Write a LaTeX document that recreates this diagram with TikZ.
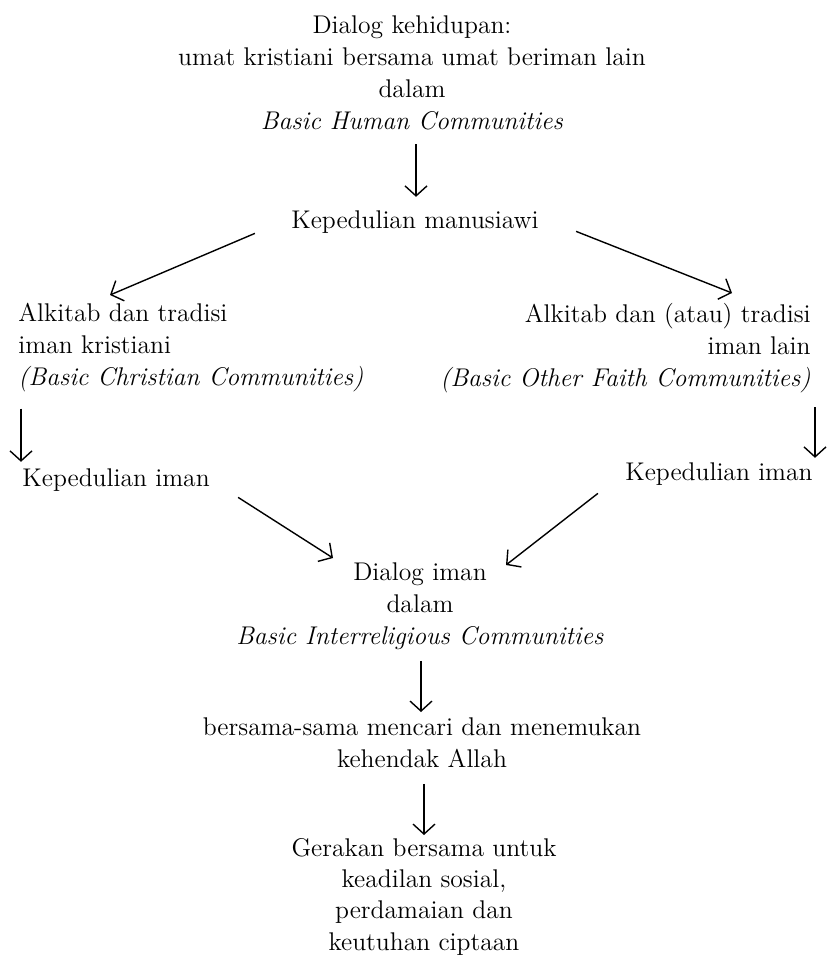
\documentclass[tikz,border=0pt]{standalone}
\usepackage{tikz}
\usetikzlibrary{arrows.meta, positioning, calc}

\begin{document}
\begin{tikzpicture}[x=0.5pt, y=-0.5pt,
  txt/.style={inner sep=0pt, font=\fontsize{12.8}{16}\selectfont},
  arr/.style={line width=0.7pt, -{Straight Barb[length=5pt, width=11pt]}}]
  \useasboundingbox (0,0) rectangle (826,958);
  % Top
  \node[txt, anchor=north, align=center] (top) at (412,15) {Dialog kehidupan:\\ umat kristiani bersama umat beriman lain\\ dalam\\ \textit{Basic Human Communities}};
  \node[txt, anchor=base] (manus) at (415,228) {Kepedulian manusiawi};
  % Two sides
  \node[txt, anchor=north west, align=left] (alkL) at (18,303) {Alkitab dan tradisi\\ iman kristiani\\ \textit{(Basic Christian Communities)}};
  \node[txt, anchor=north east, align=right] (alkR) at (811,303) {Alkitab dan (atau) tradisi\\ iman lain\\ \textit{(Basic Other Faith Communities)}};
  \node[txt, anchor=base west] (pedL) at (22,486) {Kepedulian iman};
  \node[txt, anchor=base east] (pedR) at (813,480) {Kepedulian iman};
  % Bottom
  \node[txt, anchor=north, align=center] (dialog) at (420,562) {Dialog iman\\ dalam\\ \textit{Basic Interreligious Communities}};
  \node[txt, anchor=north, align=center] (cari) at (422,717) {bersama-sama mencari dan menemukan\\ kehendak Allah};
  \node[txt, anchor=north, align=center, font=\fontsize{12.8}{15.6}\selectfont] (gerak) at (424,838) {Gerakan bersama untuk\\ keadilan sosial,\\ perdamaian dan\\ keutuhan ciptaan};
  % Arrows
  \draw[arr] ($(top.south)+(4,14)$) -- ($(manus.north)+(1,-13)$);
  \draw[arr] ($(manus.south west)+(-36,0)$) -- ($(alkL.north west)+(92,-8)$);
  \draw[arr] ($(manus.south east)+(37,-2)$) -- ($(alkR.north east)+(-79,-10)$);
  \draw[arr] ($(alkL.south west)+(3,16)$) -- ($(pedL.north west)+(-1,-6)$);
  \draw[arr] ($(alkR.south east)+(4,14)$) -- ($(pedR.north east)+(2,-4)$);
  \draw[arr] ($(pedL.south east)+(28,6)$) -- ($(dialog.north)+(-87,-4)$);
  \draw[arr] ($(pedR.south west)+(-27,8)$) -- ($(dialog.north)+(86,3)$);
  \draw[arr] ($(dialog.south)+(1,11)$) -- ($(cari.north)+(-1,-5)$);
  \draw[arr] ($(cari.south)+(2,16)$) -- ($(gerak.north)+(0,-3)$);
\end{tikzpicture}
\end{document}
